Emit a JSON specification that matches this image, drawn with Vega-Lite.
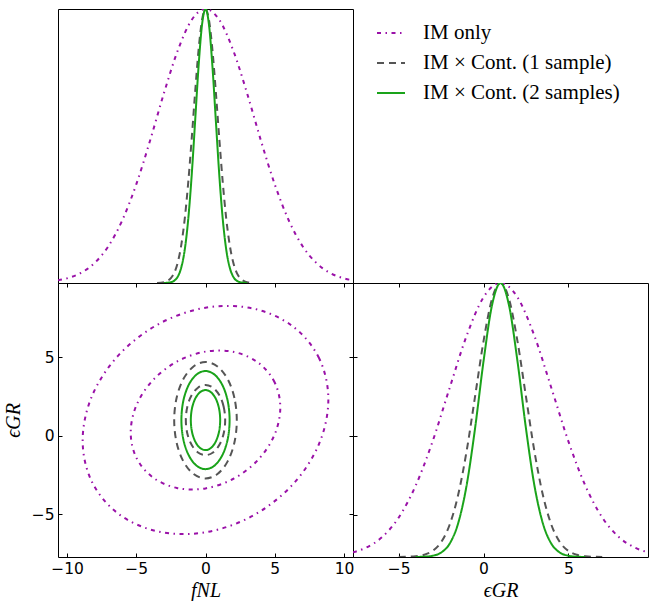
{
  "$schema": "https://vega.github.io/schema/vega-lite/v6.json",
  "background": "white",
  "padding": {"left": 2, "top": 8, "right": 2, "bottom": 2},
  "datasets": {
    "fnl": [
      {"series": "IM only", "fnl": -10.65, "p": 0.0098},
      {"series": "IM only", "fnl": -10, "p": 0.0169},
      {"series": "IM only", "fnl": -9, "p": 0.0367},
      {"series": "IM only", "fnl": -8, "p": 0.0734},
      {"series": "IM only", "fnl": -7, "p": 0.135},
      {"series": "IM only", "fnl": -6, "p": 0.23},
      {"series": "IM only", "fnl": -5, "p": 0.36},
      {"series": "IM only", "fnl": -4, "p": 0.52},
      {"series": "IM only", "fnl": -3, "p": 0.693},
      {"series": "IM only", "fnl": -2, "p": 0.849},
      {"series": "IM only", "fnl": -1, "p": 0.96},
      {"series": "IM only", "fnl": 0, "p": 1},
      {"series": "IM only", "fnl": 1, "p": 0.96},
      {"series": "IM only", "fnl": 2, "p": 0.849},
      {"series": "IM only", "fnl": 3, "p": 0.693},
      {"series": "IM only", "fnl": 4, "p": 0.52},
      {"series": "IM only", "fnl": 5, "p": 0.36},
      {"series": "IM only", "fnl": 6, "p": 0.23},
      {"series": "IM only", "fnl": 7, "p": 0.135},
      {"series": "IM only", "fnl": 8, "p": 0.0734},
      {"series": "IM only", "fnl": 9, "p": 0.0367},
      {"series": "IM only", "fnl": 10, "p": 0.0169},
      {"series": "IM only", "fnl": 10.65, "p": 0.0098},
      {"series": "IM × Cont. (1 sample)", "fnl": -3.5, "p": 0.0004},
      {"series": "IM × Cont. (1 sample)", "fnl": -3, "p": 0.003},
      {"series": "IM × Cont. (1 sample)", "fnl": -2.75, "p": 0.0076},
      {"series": "IM × Cont. (1 sample)", "fnl": -2.5, "p": 0.0177},
      {"series": "IM × Cont. (1 sample)", "fnl": -2.25, "p": 0.038},
      {"series": "IM × Cont. (1 sample)", "fnl": -2, "p": 0.0756},
      {"series": "IM × Cont. (1 sample)", "fnl": -1.75, "p": 0.1384},
      {"series": "IM × Cont. (1 sample)", "fnl": -1.5, "p": 0.234},
      {"series": "IM × Cont. (1 sample)", "fnl": -1.25, "p": 0.365},
      {"series": "IM × Cont. (1 sample)", "fnl": -1, "p": 0.524},
      {"series": "IM × Cont. (1 sample)", "fnl": -0.75, "p": 0.695},
      {"series": "IM × Cont. (1 sample)", "fnl": -0.5, "p": 0.851},
      {"series": "IM × Cont. (1 sample)", "fnl": -0.25, "p": 0.96},
      {"series": "IM × Cont. (1 sample)", "fnl": 0, "p": 1},
      {"series": "IM × Cont. (1 sample)", "fnl": 0.25, "p": 0.96},
      {"series": "IM × Cont. (1 sample)", "fnl": 0.5, "p": 0.851},
      {"series": "IM × Cont. (1 sample)", "fnl": 0.75, "p": 0.695},
      {"series": "IM × Cont. (1 sample)", "fnl": 1, "p": 0.524},
      {"series": "IM × Cont. (1 sample)", "fnl": 1.25, "p": 0.365},
      {"series": "IM × Cont. (1 sample)", "fnl": 1.5, "p": 0.234},
      {"series": "IM × Cont. (1 sample)", "fnl": 1.75, "p": 0.1384},
      {"series": "IM × Cont. (1 sample)", "fnl": 2, "p": 0.0756},
      {"series": "IM × Cont. (1 sample)", "fnl": 2.25, "p": 0.038},
      {"series": "IM × Cont. (1 sample)", "fnl": 2.5, "p": 0.0177},
      {"series": "IM × Cont. (1 sample)", "fnl": 2.75, "p": 0.0076},
      {"series": "IM × Cont. (1 sample)", "fnl": 3, "p": 0.003},
      {"series": "IM × Cont. (1 sample)", "fnl": 3.5, "p": 0.0004},
      {"series": "IM × Cont. (2 samples)", "fnl": -3, "p": 0.0002},
      {"series": "IM × Cont. (2 samples)", "fnl": -2.5, "p": 0.0028},
      {"series": "IM × Cont. (2 samples)", "fnl": -2.25, "p": 0.0087},
      {"series": "IM × Cont. (2 samples)", "fnl": -2, "p": 0.0234},
      {"series": "IM × Cont. (2 samples)", "fnl": -1.75, "p": 0.0565},
      {"series": "IM × Cont. (2 samples)", "fnl": -1.5, "p": 0.121},
      {"series": "IM × Cont. (2 samples)", "fnl": -1.25, "p": 0.231},
      {"series": "IM × Cont. (2 samples)", "fnl": -1, "p": 0.391},
      {"series": "IM × Cont. (2 samples)", "fnl": -0.75, "p": 0.59},
      {"series": "IM × Cont. (2 samples)", "fnl": -0.5, "p": 0.791},
      {"series": "IM × Cont. (2 samples)", "fnl": -0.25, "p": 0.943},
      {"series": "IM × Cont. (2 samples)", "fnl": 0, "p": 1},
      {"series": "IM × Cont. (2 samples)", "fnl": 0.25, "p": 0.943},
      {"series": "IM × Cont. (2 samples)", "fnl": 0.5, "p": 0.791},
      {"series": "IM × Cont. (2 samples)", "fnl": 0.75, "p": 0.59},
      {"series": "IM × Cont. (2 samples)", "fnl": 1, "p": 0.391},
      {"series": "IM × Cont. (2 samples)", "fnl": 1.25, "p": 0.231},
      {"series": "IM × Cont. (2 samples)", "fnl": 1.5, "p": 0.121},
      {"series": "IM × Cont. (2 samples)", "fnl": 1.75, "p": 0.0565},
      {"series": "IM × Cont. (2 samples)", "fnl": 2, "p": 0.0234},
      {"series": "IM × Cont. (2 samples)", "fnl": 2.25, "p": 0.0087},
      {"series": "IM × Cont. (2 samples)", "fnl": 2.5, "p": 0.0028},
      {"series": "IM × Cont. (2 samples)", "fnl": 3, "p": 0.0002}
    ],
    "egr": [
      {"series": "IM only", "egr": -7.7, "p": 0.0171},
      {"series": "IM only", "egr": -7, "p": 0.0321},
      {"series": "IM only", "egr": -6, "p": 0.0718},
      {"series": "IM only", "egr": -5, "p": 0.1444},
      {"series": "IM only", "egr": -4, "p": 0.261},
      {"series": "IM only", "egr": -3, "p": 0.423},
      {"series": "IM only", "egr": -2, "p": 0.617},
      {"series": "IM only", "egr": -1, "p": 0.807},
      {"series": "IM only", "egr": 0, "p": 0.948},
      {"series": "IM only", "egr": 1, "p": 1},
      {"series": "IM only", "egr": 2, "p": 0.948},
      {"series": "IM only", "egr": 3, "p": 0.807},
      {"series": "IM only", "egr": 4, "p": 0.617},
      {"series": "IM only", "egr": 5, "p": 0.423},
      {"series": "IM only", "egr": 6, "p": 0.261},
      {"series": "IM only", "egr": 7, "p": 0.1444},
      {"series": "IM only", "egr": 8, "p": 0.0718},
      {"series": "IM only", "egr": 9, "p": 0.0321},
      {"series": "IM only", "egr": 9.7, "p": 0.0171},
      {"series": "IM × Cont. (1 sample)", "egr": -5, "p": 0.0002},
      {"series": "IM × Cont. (1 sample)", "egr": -4, "p": 0.0026},
      {"series": "IM × Cont. (1 sample)", "egr": -3.5, "p": 0.0081},
      {"series": "IM × Cont. (1 sample)", "egr": -3, "p": 0.0223},
      {"series": "IM × Cont. (1 sample)", "egr": -2.5, "p": 0.0543},
      {"series": "IM × Cont. (1 sample)", "egr": -2, "p": 0.1176},
      {"series": "IM × Cont. (1 sample)", "egr": -1.5, "p": 0.226},
      {"series": "IM × Cont. (1 sample)", "egr": -1, "p": 0.386},
      {"series": "IM × Cont. (1 sample)", "egr": -0.5, "p": 0.586},
      {"series": "IM × Cont. (1 sample)", "egr": 0, "p": 0.788},
      {"series": "IM × Cont. (1 sample)", "egr": 0.5, "p": 0.942},
      {"series": "IM × Cont. (1 sample)", "egr": 1, "p": 1},
      {"series": "IM × Cont. (1 sample)", "egr": 1.5, "p": 0.942},
      {"series": "IM × Cont. (1 sample)", "egr": 2, "p": 0.788},
      {"series": "IM × Cont. (1 sample)", "egr": 2.5, "p": 0.586},
      {"series": "IM × Cont. (1 sample)", "egr": 3, "p": 0.386},
      {"series": "IM × Cont. (1 sample)", "egr": 3.5, "p": 0.226},
      {"series": "IM × Cont. (1 sample)", "egr": 4, "p": 0.1176},
      {"series": "IM × Cont. (1 sample)", "egr": 4.5, "p": 0.0543},
      {"series": "IM × Cont. (1 sample)", "egr": 5, "p": 0.0223},
      {"series": "IM × Cont. (1 sample)", "egr": 5.5, "p": 0.0081},
      {"series": "IM × Cont. (1 sample)", "egr": 6, "p": 0.0026},
      {"series": "IM × Cont. (1 sample)", "egr": 7, "p": 0.0002},
      {"series": "IM × Cont. (2 samples)", "egr": -4, "p": 0.0002},
      {"series": "IM × Cont. (2 samples)", "egr": -3.5, "p": 0.0011},
      {"series": "IM × Cont. (2 samples)", "egr": -3, "p": 0.0046},
      {"series": "IM × Cont. (2 samples)", "egr": -2.5, "p": 0.0163},
      {"series": "IM × Cont. (2 samples)", "egr": -2, "p": 0.0486},
      {"series": "IM × Cont. (2 samples)", "egr": -1.5, "p": 0.1225},
      {"series": "IM × Cont. (2 samples)", "egr": -1, "p": 0.261},
      {"series": "IM × Cont. (2 samples)", "egr": -0.5, "p": 0.47},
      {"series": "IM × Cont. (2 samples)", "egr": 0, "p": 0.715},
      {"series": "IM × Cont. (2 samples)", "egr": 0.5, "p": 0.919},
      {"series": "IM × Cont. (2 samples)", "egr": 1, "p": 1},
      {"series": "IM × Cont. (2 samples)", "egr": 1.5, "p": 0.919},
      {"series": "IM × Cont. (2 samples)", "egr": 2, "p": 0.715},
      {"series": "IM × Cont. (2 samples)", "egr": 2.5, "p": 0.47},
      {"series": "IM × Cont. (2 samples)", "egr": 3, "p": 0.261},
      {"series": "IM × Cont. (2 samples)", "egr": 3.5, "p": 0.1225},
      {"series": "IM × Cont. (2 samples)", "egr": 4, "p": 0.0486},
      {"series": "IM × Cont. (2 samples)", "egr": 4.5, "p": 0.0163},
      {"series": "IM × Cont. (2 samples)", "egr": 5, "p": 0.0046},
      {"series": "IM × Cont. (2 samples)", "egr": 5.5, "p": 0.0011},
      {"series": "IM × Cont. (2 samples)", "egr": 6, "p": 0.0002}
    ],
    "contours": [
      {"series": "IM only", "level": 1, "k": 0, "fnl": 5.4, "egr": 1.795},
      {"series": "IM only", "level": 1, "k": 1, "fnl": 4.989, "egr": 3.396},
      {"series": "IM only", "level": 1, "k": 2, "fnl": 3.818, "egr": 4.633},
      {"series": "IM only", "level": 1, "k": 3, "fnl": 2.067, "egr": 5.317},
      {"series": "IM only", "level": 1, "k": 4, "fnl": 0, "egr": 5.343},
      {"series": "IM only", "level": 1, "k": 5, "fnl": -2.067, "egr": 4.708},
      {"series": "IM only", "level": 1, "k": 6, "fnl": -3.818, "egr": 3.509},
      {"series": "IM only", "level": 1, "k": 7, "fnl": -4.989, "egr": 1.928},
      {"series": "IM only", "level": 1, "k": 8, "fnl": -5.4, "egr": 0.205},
      {"series": "IM only", "level": 1, "k": 9, "fnl": -4.989, "egr": -1.396},
      {"series": "IM only", "level": 1, "k": 10, "fnl": -3.818, "egr": -2.633},
      {"series": "IM only", "level": 1, "k": 11, "fnl": -2.067, "egr": -3.317},
      {"series": "IM only", "level": 1, "k": 12, "fnl": 0, "egr": -3.343},
      {"series": "IM only", "level": 1, "k": 13, "fnl": 2.067, "egr": -2.708},
      {"series": "IM only", "level": 1, "k": 14, "fnl": 3.818, "egr": -1.509},
      {"series": "IM only", "level": 1, "k": 15, "fnl": 4.989, "egr": 0.072},
      {"series": "IM only", "level": 2, "k": 0, "fnl": 8.87, "egr": 2.305},
      {"series": "IM only", "level": 2, "k": 1, "fnl": 8.195, "egr": 4.935},
      {"series": "IM only", "level": 2, "k": 2, "fnl": 6.272, "egr": 6.966},
      {"series": "IM only", "level": 2, "k": 3, "fnl": 3.395, "egr": 8.088},
      {"series": "IM only", "level": 2, "k": 4, "fnl": 0, "egr": 8.132},
      {"series": "IM only", "level": 2, "k": 5, "fnl": -3.395, "egr": 7.089},
      {"series": "IM only", "level": 2, "k": 6, "fnl": -6.272, "egr": 5.12},
      {"series": "IM only", "level": 2, "k": 7, "fnl": -8.195, "egr": 2.524},
      {"series": "IM only", "level": 2, "k": 8, "fnl": -8.87, "egr": -0.305},
      {"series": "IM only", "level": 2, "k": 9, "fnl": -8.195, "egr": -2.935},
      {"series": "IM only", "level": 2, "k": 10, "fnl": -6.272, "egr": -4.966},
      {"series": "IM only", "level": 2, "k": 11, "fnl": -3.395, "egr": -6.088},
      {"series": "IM only", "level": 2, "k": 12, "fnl": 0, "egr": -6.132},
      {"series": "IM only", "level": 2, "k": 13, "fnl": 3.395, "egr": -5.089},
      {"series": "IM only", "level": 2, "k": 14, "fnl": 6.272, "egr": -3.12},
      {"series": "IM only", "level": 2, "k": 15, "fnl": 8.195, "egr": -0.524},
      {"series": "IM × Cont. (1 sample)", "level": 1, "k": 0, "fnl": 1.42, "egr": 0.995},
      {"series": "IM × Cont. (1 sample)", "level": 1, "k": 1, "fnl": 1.312, "egr": 1.847},
      {"series": "IM × Cont. (1 sample)", "level": 1, "k": 2, "fnl": 1.004, "egr": 2.568},
      {"series": "IM × Cont. (1 sample)", "level": 1, "k": 3, "fnl": 0.543, "egr": 3.051},
      {"series": "IM × Cont. (1 sample)", "level": 1, "k": 4, "fnl": 0, "egr": 3.22},
      {"series": "IM × Cont. (1 sample)", "level": 1, "k": 5, "fnl": -0.543, "egr": 3.051},
      {"series": "IM × Cont. (1 sample)", "level": 1, "k": 6, "fnl": -1.004, "egr": 2.568},
      {"series": "IM × Cont. (1 sample)", "level": 1, "k": 7, "fnl": -1.312, "egr": 1.847},
      {"series": "IM × Cont. (1 sample)", "level": 1, "k": 8, "fnl": -1.42, "egr": 0.995},
      {"series": "IM × Cont. (1 sample)", "level": 1, "k": 9, "fnl": -1.312, "egr": 0.143},
      {"series": "IM × Cont. (1 sample)", "level": 1, "k": 10, "fnl": -1.004, "egr": -0.578},
      {"series": "IM × Cont. (1 sample)", "level": 1, "k": 11, "fnl": -0.543, "egr": -1.061},
      {"series": "IM × Cont. (1 sample)", "level": 1, "k": 12, "fnl": 0, "egr": -1.23},
      {"series": "IM × Cont. (1 sample)", "level": 1, "k": 13, "fnl": 0.543, "egr": -1.061},
      {"series": "IM × Cont. (1 sample)", "level": 1, "k": 14, "fnl": 1.004, "egr": -0.578},
      {"series": "IM × Cont. (1 sample)", "level": 1, "k": 15, "fnl": 1.312, "egr": 0.143},
      {"series": "IM × Cont. (1 sample)", "level": 2, "k": 0, "fnl": 2.26, "egr": 0.985},
      {"series": "IM × Cont. (1 sample)", "level": 2, "k": 1, "fnl": 2.088, "egr": 2.399},
      {"series": "IM × Cont. (1 sample)", "level": 2, "k": 2, "fnl": 1.598, "egr": 3.598},
      {"series": "IM × Cont. (1 sample)", "level": 2, "k": 3, "fnl": 0.865, "egr": 4.399},
      {"series": "IM × Cont. (1 sample)", "level": 2, "k": 4, "fnl": 0, "egr": 4.68},
      {"series": "IM × Cont. (1 sample)", "level": 2, "k": 5, "fnl": -0.865, "egr": 4.399},
      {"series": "IM × Cont. (1 sample)", "level": 2, "k": 6, "fnl": -1.598, "egr": 3.598},
      {"series": "IM × Cont. (1 sample)", "level": 2, "k": 7, "fnl": -2.088, "egr": 2.399},
      {"series": "IM × Cont. (1 sample)", "level": 2, "k": 8, "fnl": -2.26, "egr": 0.985},
      {"series": "IM × Cont. (1 sample)", "level": 2, "k": 9, "fnl": -2.088, "egr": -0.429},
      {"series": "IM × Cont. (1 sample)", "level": 2, "k": 10, "fnl": -1.598, "egr": -1.628},
      {"series": "IM × Cont. (1 sample)", "level": 2, "k": 11, "fnl": -0.865, "egr": -2.429},
      {"series": "IM × Cont. (1 sample)", "level": 2, "k": 12, "fnl": 0, "egr": -2.71},
      {"series": "IM × Cont. (1 sample)", "level": 2, "k": 13, "fnl": 0.865, "egr": -2.429},
      {"series": "IM × Cont. (1 sample)", "level": 2, "k": 14, "fnl": 1.598, "egr": -1.628},
      {"series": "IM × Cont. (1 sample)", "level": 2, "k": 15, "fnl": 2.088, "egr": -0.429},
      {"series": "IM × Cont. (2 samples)", "level": 1, "k": 0, "fnl": 1.06, "egr": 0.995},
      {"series": "IM × Cont. (2 samples)", "level": 1, "k": 1, "fnl": 0.979, "egr": 1.724},
      {"series": "IM × Cont. (2 samples)", "level": 1, "k": 2, "fnl": 0.75, "egr": 2.342},
      {"series": "IM × Cont. (2 samples)", "level": 1, "k": 3, "fnl": 0.406, "egr": 2.755},
      {"series": "IM × Cont. (2 samples)", "level": 1, "k": 4, "fnl": 0, "egr": 2.9},
      {"series": "IM × Cont. (2 samples)", "level": 1, "k": 5, "fnl": -0.406, "egr": 2.755},
      {"series": "IM × Cont. (2 samples)", "level": 1, "k": 6, "fnl": -0.75, "egr": 2.342},
      {"series": "IM × Cont. (2 samples)", "level": 1, "k": 7, "fnl": -0.979, "egr": 1.724},
      {"series": "IM × Cont. (2 samples)", "level": 1, "k": 8, "fnl": -1.06, "egr": 0.995},
      {"series": "IM × Cont. (2 samples)", "level": 1, "k": 9, "fnl": -0.979, "egr": 0.266},
      {"series": "IM × Cont. (2 samples)", "level": 1, "k": 10, "fnl": -0.75, "egr": -0.352},
      {"series": "IM × Cont. (2 samples)", "level": 1, "k": 11, "fnl": -0.406, "egr": -0.765},
      {"series": "IM × Cont. (2 samples)", "level": 1, "k": 12, "fnl": 0, "egr": -0.91},
      {"series": "IM × Cont. (2 samples)", "level": 1, "k": 13, "fnl": 0.406, "egr": -0.765},
      {"series": "IM × Cont. (2 samples)", "level": 1, "k": 14, "fnl": 0.75, "egr": -0.352},
      {"series": "IM × Cont. (2 samples)", "level": 1, "k": 15, "fnl": 0.979, "egr": 0.266},
      {"series": "IM × Cont. (2 samples)", "level": 2, "k": 0, "fnl": 1.74, "egr": 0.995},
      {"series": "IM × Cont. (2 samples)", "level": 2, "k": 1, "fnl": 1.608, "egr": 2.187},
      {"series": "IM × Cont. (2 samples)", "level": 2, "k": 2, "fnl": 1.23, "egr": 3.198},
      {"series": "IM × Cont. (2 samples)", "level": 2, "k": 3, "fnl": 0.666, "egr": 3.873},
      {"series": "IM × Cont. (2 samples)", "level": 2, "k": 4, "fnl": 0, "egr": 4.11},
      {"series": "IM × Cont. (2 samples)", "level": 2, "k": 5, "fnl": -0.666, "egr": 3.873},
      {"series": "IM × Cont. (2 samples)", "level": 2, "k": 6, "fnl": -1.23, "egr": 3.198},
      {"series": "IM × Cont. (2 samples)", "level": 2, "k": 7, "fnl": -1.608, "egr": 2.187},
      {"series": "IM × Cont. (2 samples)", "level": 2, "k": 8, "fnl": -1.74, "egr": 0.995},
      {"series": "IM × Cont. (2 samples)", "level": 2, "k": 9, "fnl": -1.608, "egr": -0.197},
      {"series": "IM × Cont. (2 samples)", "level": 2, "k": 10, "fnl": -1.23, "egr": -1.208},
      {"series": "IM × Cont. (2 samples)", "level": 2, "k": 11, "fnl": -0.666, "egr": -1.883},
      {"series": "IM × Cont. (2 samples)", "level": 2, "k": 12, "fnl": 0, "egr": -2.12},
      {"series": "IM × Cont. (2 samples)", "level": 2, "k": 13, "fnl": 0.666, "egr": -1.883},
      {"series": "IM × Cont. (2 samples)", "level": 2, "k": 14, "fnl": 1.23, "egr": -1.208},
      {"series": "IM × Cont. (2 samples)", "level": 2, "k": 15, "fnl": 1.608, "egr": -0.197}
    ]
  },
  "columns": 2,
  "spacing": 0,
  "bounds": "flush",
  "concat": [
    {
      "width": 295,
      "height": 274,
      "data": {"name": "fnl"},
      "mark": {"type": "line", "strokeWidth": 2, "interpolate": "monotone", "clip": true},
      "encoding": {
        "x": {"field": "fnl", "type": "quantitative", "scale": {"domain": [-10.65, 10.65], "nice": false, "zero": false}, "axis": null},
        "y": {"field": "p", "type": "quantitative", "scale": {"domain": [0, 1], "nice": false}, "axis": null},
        "color": {
          "field": "series", "type": "nominal",
          "scale": {"domain": ["IM only", "IM × Cont. (1 sample)", "IM × Cont. (2 samples)"], "range": ["#9a11a8", "#555555", "#1aa31a"]},
          "legend": {"title": null, "orient": "none", "legendX": 318, "legendY": 9, "symbolType": "stroke", "symbolSize": 784, "symbolStrokeWidth": 2, "labelFont": "Liberation Serif", "labelFontSize": 21, "labelColor": "black", "labelOffset": 17, "rowPadding": 5, "labelLimit": 400, "padding": 0}
        },
        "strokeDash": {
          "field": "series", "type": "nominal",
          "scale": {"domain": ["IM only", "IM × Cont. (1 sample)", "IM × Cont. (2 samples)"], "range": [[4, 4.5, 1.5, 4.5], [7, 5], [1, 0]]},
          "legend": {"title": null, "orient": "none", "legendX": 318, "legendY": 9, "symbolType": "stroke", "symbolSize": 784, "symbolStrokeWidth": 2, "labelFont": "Liberation Serif", "labelFontSize": 21, "labelColor": "black", "labelOffset": 17, "rowPadding": 5, "labelLimit": 400, "padding": 0}
        }
      }
    },
    {
      "width": 295,
      "height": 274,
      "view": {"stroke": null},
      "data": {"values": []},
      "mark": "point"
    },
    {
      "width": 295,
      "height": 274,
      "data": {"name": "contours"},
      "layer": [
        {
          "mark": {"type": "line", "strokeWidth": 2, "interpolate": "cardinal-closed"},
          "encoding": {
            "x": {"field": "fnl", "type": "quantitative", "scale": {"domain": [-10.65, 10.65], "nice": false, "zero": false}, "axis": {"orient": "bottom", "values": [-10, -5, 0, 5, 10], "title": "fNL"}},
            "y": {"field": "egr", "type": "quantitative", "scale": {"domain": [-7.7, 9.7], "nice": false, "zero": false}, "axis": {"orient": "left", "values": [-5, 0, 5], "title": "ϵGR"}},
            "detail": {"field": "level"},
            "order": {"field": "k"},
            "color": {"field": "series", "type": "nominal"},
            "strokeDash": {"field": "series", "type": "nominal"}
          }
        },
        {
          "mark": {"type": "point", "opacity": 0},
          "encoding": {
            "x": {"field": "fnl", "type": "quantitative", "axis": {"orient": "top", "values": [-10, -5, 0, 5, 10], "labels": false, "title": null}},
            "y": {"field": "egr", "type": "quantitative", "axis": {"orient": "right", "values": [-5, 0, 5], "labels": false, "title": null}}
          }
        }
      ],
      "resolve": {"axis": {"x": "independent", "y": "independent"}}
    },
    {
      "width": 295,
      "height": 274,
      "data": {"name": "egr"},
      "layer": [
        {
          "mark": {"type": "line", "strokeWidth": 2, "interpolate": "monotone", "clip": true},
          "encoding": {
            "x": {"field": "egr", "type": "quantitative", "scale": {"domain": [-7.7, 9.7], "nice": false, "zero": false}, "axis": {"orient": "bottom", "values": [-5, 0, 5], "title": "ϵGR"}},
            "y": {"field": "p", "type": "quantitative", "scale": {"domain": [0, 1], "nice": false}, "axis": {"orient": "left", "values": [0.1545, 0.4417, 0.7289], "labels": false, "title": null}},
            "color": {"field": "series", "type": "nominal"},
            "strokeDash": {"field": "series", "type": "nominal"}
          }
        },
        {
          "mark": {"type": "point", "opacity": 0},
          "encoding": {
            "x": {"field": "egr", "type": "quantitative", "axis": {"orient": "top", "values": [-5, 0, 5], "labels": false, "title": null}},
            "y": {"field": "p", "type": "quantitative"}
          }
        }
      ],
      "resolve": {"axis": {"x": "independent"}}
    }
  ],
  "config": {
    "view": {"stroke": "black", "strokeWidth": 1},
    "axis": {
      "domain": false, "grid": false, "tickSize": -4, "tickColor": "black", "tickWidth": 1,
      "labelFont": "DejaVu Sans", "labelFontSize": 15.5, "labelColor": "black", "labelPadding": 8, "labelFlush": false,
      "titleFont": "Liberation Serif", "titleFontStyle": "italic", "titleFontWeight": "normal", "titleFontSize": 20, "titleColor": "black"
    },
    "axisX": {"titlePadding": 4},
    "axisY": {"titlePadding": 8},
    "legend": {"padding": 0}
  }
}
